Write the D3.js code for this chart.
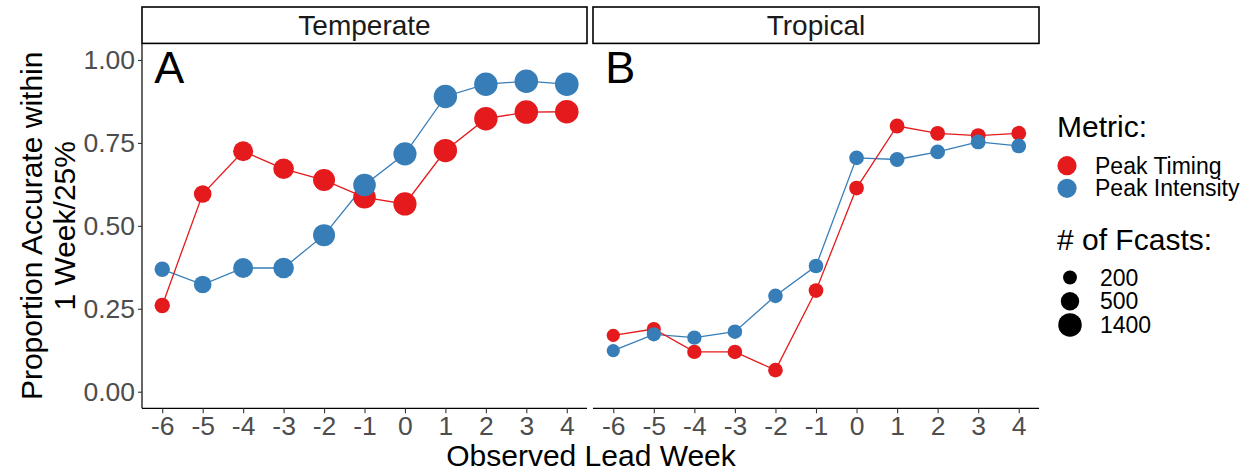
<!DOCTYPE html>
<html>
<head>
<meta charset="utf-8">
<script src="https://cdn.jsdelivr.net/npm/d3@7"></script>
<style>
  body { margin: 0; background: #fff; }
  text { font-family: "Liberation Sans", Arial, sans-serif; }
</style>
</head>
<body>
<div id="chart-area"></div>
<script>
let weeks = [-6, -5, -4, -3, -2, -1, 0, 1, 2, 3, 4];
let regions = ["Temperate", "Tropical"];
let panelTags = ["A", "B"];
let metrics = ["Peak Timing", "Peak Intensity"];
let metricColors = ["#E41A1C", "#377EB8"];

let tempTiming    = [0.260, 0.596, 0.725, 0.672, 0.638, 0.586, 0.566, 0.727, 0.823, 0.843, 0.844];
let tempIntensity = [0.369, 0.323, 0.373, 0.373, 0.472, 0.623, 0.717, 0.890, 0.927, 0.936, 0.927];
let tropTiming    = [0.170, 0.189, 0.120, 0.120, 0.065, 0.305, 0.614, 0.801, 0.779, 0.772, 0.779];
let tropIntensity = [0.124, 0.173, 0.163, 0.181, 0.289, 0.379, 0.705, 0.700, 0.723, 0.753, 0.741];

// number of forecasts per lead week
let tempN = [250, 415, 720, 815, 1070, 1195, 1320, 1360, 1380, 1400, 1420];
let tropN = [195, 205, 210, 215, 218, 220, 222, 224, 225, 226, 226];

let yTicks = [0, 0.25, 0.5, 0.75, 1];
let sizeBreaks = [200, 500, 1400];

let width = 1260;
let height = 471;

let svg = d3.select("#chart-area")
    .append("svg")
    .attr("width", width)
    .attr("height", height);

let panels = [
    { left: 142, right: 587, timing: tempTiming, intensity: tempIntensity, n: tempN },
    { left: 593, right: 1039, timing: tropTiming, intensity: tropIntensity, n: tropN }
];
let panelTop = 43.4;
let panelBottom = 408.3;

let y = d3.scaleLinear()
    .domain([-0.05, 1.05])
    .range([panelBottom, panelTop]);

// size: area scaled between data limits, like ggplot scale_size
let nExtent = d3.extent(tempN.concat(tropN));
let sizeNorm = d3.scaleLinear().domain(nExtent).range([0, 1]);
let radius = d3.scaleSqrt().domain([0, 1]).range([6.6, 11.8]);
let r = n => radius(Math.max(0, sizeNorm(n)));

panels.forEach((p, i) => {
    let x = d3.scaleLinear()
        .domain([-6.5, 4.5])
        .range([p.left, p.right]);

    let g = svg.append("g").attr("class", "panel");

    // strip
    g.append("rect")
        .attr("x", p.left)
        .attr("y", 7)
        .attr("width", p.right - p.left)
        .attr("height", panelTop - 7)
        .attr("fill", "#fff")
        .attr("stroke", "#000")
        .attr("stroke-width", 1.6);
    g.append("text")
        .attr("x", (p.left + p.right) / 2)
        .attr("y", 35)
        .attr("text-anchor", "middle")
        .attr("font-size", 28)
        .attr("fill", "#1a1a1a")
        .text(regions[i]);

    // x axis
    let xAxis = d3.axisBottom(x)
        .tickValues(weeks)
        .tickFormat(d3.format("d"))
        .tickSize(5)
        .tickSizeOuter(0)
        .tickPadding(3);
    let xg = g.append("g")
        .attr("transform", "translate(0," + panelBottom + ")")
        .call(xAxis);
    xg.select(".domain").attr("stroke", "#000").attr("stroke-width", 1.2)
        .attr("d", "M" + p.left + ",0H" + p.right);
    xg.selectAll(".tick line").attr("stroke", "#333").attr("stroke-width", 1.1);
    xg.selectAll(".tick text")
        .attr("font-size", 26.5)
        .attr("font-family", "Liberation Sans, Arial, sans-serif")
        .attr("fill", "#4d4d4d")
        .text(d => d < 0 ? "-" + Math.abs(d) : d);

    // y axis only on first panel
    if (i === 0) {
        let yAxis = d3.axisLeft(y)
            .tickValues(yTicks)
            .tickFormat(d3.format(".2f"))
            .tickSize(4)
            .tickSizeOuter(0)
            .tickPadding(3);
        let yg = g.append("g")
            .attr("transform", "translate(" + p.left + ",0)")
            .call(yAxis);
        yg.select(".domain").attr("stroke", "#000").attr("stroke-width", 1.2)
            .attr("d", "M0," + panelTop + "V" + panelBottom);
        yg.selectAll(".tick line").attr("stroke", "#333").attr("stroke-width", 1.1);
        yg.selectAll(".tick text")
            .attr("font-size", 26.5)
            .attr("font-family", "Liberation Sans, Arial, sans-serif")
            .attr("fill", "#4d4d4d");
    }

    let series = [
        { values: p.timing, color: metricColors[0] },
        { values: p.intensity, color: metricColors[1] }
    ];

    let line = d3.line()
        .x((d, j) => x(weeks[j]))
        .y(d => y(d));

    // lines
    series.slice().reverse().forEach(s => {
        g.append("path")
            .datum(s.values)
            .attr("fill", "none")
            .attr("stroke", s.color)
            .attr("stroke-width", 1.3)
            .attr("d", line);
    });

    // points
    series.forEach(s => {
        g.append("g").selectAll("circle")
            .data(s.values)
            .enter()
            .append("circle")
            .attr("cx", (d, j) => x(weeks[j]))
            .attr("cy", d => y(d))
            .attr("r", (d, j) => r(p.n[j]))
            .attr("fill", s.color);
    });

    // panel tag
    g.append("text")
        .attr("x", x(-6) - 8)
        .attr("y", y(1) + 23)
        .attr("font-size", 45)
        .attr("fill", "#000")
        .text(panelTags[i]);
});

// axis titles
svg.append("text")
    .attr("x", 591)
    .attr("y", 466)
    .attr("text-anchor", "middle")
    .attr("font-size", 30)
    .attr("fill", "#000")
    .text("Observed Lead Week");

let yTitle = svg.append("text")
    .attr("transform", "translate(0," + (panelTop + panelBottom) / 2 + ") rotate(-90)")
    .attr("text-anchor", "middle")
    .attr("font-size", 30)
    .attr("fill", "#000");
yTitle.append("tspan").attr("x", 0).attr("y", 42).text("Proportion Accurate within");
yTitle.append("tspan").attr("x", 0).attr("y", 75).text("1 Week/25%");

// legend: metric
let legend = svg.append("g").attr("class", "legend");
legend.append("text")
    .attr("x", 1057)
    .attr("y", 137)
    .attr("font-size", 30)
    .text("Metric:");
metrics.forEach((m, k) => {
    let cy = 165.7 + k * 22.6;
    legend.append("circle")
        .attr("cx", 1067)
        .attr("cy", cy)
        .attr("r", 9.6)
        .attr("fill", metricColors[k]);
    legend.append("text")
        .attr("x", 1095)
        .attr("y", cy + 8)
        .attr("font-size", 23)
        .text(m);
});

// legend: size
legend.append("text")
    .attr("x", 1057)
    .attr("y", 250)
    .attr("font-size", 30)
    .text("# of Fcasts:");
sizeBreaks.forEach((b, k) => {
    let cy = 277.5 + k * 23.7;
    legend.append("circle")
        .attr("cx", 1070)
        .attr("cy", cy)
        .attr("r", r(b))
        .attr("fill", "#000");
    legend.append("text")
        .attr("x", 1100)
        .attr("y", cy + 8)
        .attr("font-size", 23)
        .text(b);
});
</script>
</body>
</html>
